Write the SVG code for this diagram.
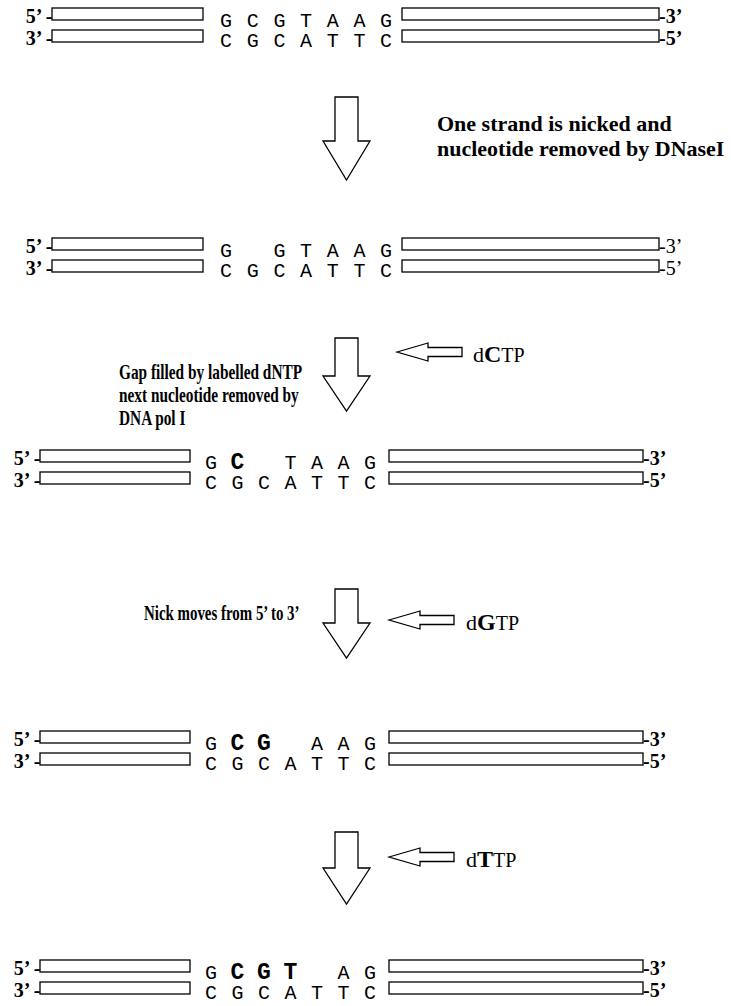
<svg xmlns="http://www.w3.org/2000/svg" width="731" height="1006" viewBox="0 0 731 1006">
<style>
.bg{fill:#fff}
.box{fill:#fff;stroke:#000;stroke-width:1.3}
.arr{fill:#fff;stroke:#000;stroke-width:1.3;stroke-linejoin:miter}
.lb{font-family:"Liberation Serif","Times New Roman",serif;font-size:20px;font-weight:bold;fill:#000}
.lr{font-family:"Liberation Serif","Times New Roman",serif;font-size:20px;fill:#000}
.nt{font-family:"Liberation Mono","Courier New",monospace;font-size:20px;text-anchor:middle;fill:#000}
.nb{font-weight:bold;font-size:23px}
.cap{font-family:"Liberation Serif","Times New Roman",serif;font-size:22px;font-weight:bold;fill:#000}
.capn{font-family:"Liberation Serif","Times New Roman",serif;font-size:21px;font-weight:bold;fill:#000}
.dn{font-family:"Liberation Serif","Times New Roman",serif;font-size:22px;fill:#000}
</style>
<rect class="bg" x="0" y="0" width="731" height="1006"/>

<g id="row1">
  <text class="lb" x="52.5" y="23" text-anchor="end">5’ -</text>
  <text class="lb" x="52.5" y="45" text-anchor="end">3’ -</text>
  <rect class="box" x="52" y="8" width="151" height="12"/>
  <rect class="box" x="52" y="30" width="151" height="12"/>
  <text class="nt" y="27" x="226 252.7 279.4 306 332.8 359.5 386">GCGTAAG</text>
  <text class="nt" y="47" x="226 252.7 279.4 306 332.8 359.5 386">CGCATTC</text>
  <rect class="box" x="402" y="8" width="257" height="12"/>
  <rect class="box" x="402" y="30" width="257" height="12"/>
  <text class="lb" x="659" y="23">-3’</text>
  <text class="lb" x="659" y="45">-5’</text>
</g>

<g id="row2">
  <text class="lb" x="52.5" y="253" text-anchor="end">5’ -</text>
  <text class="lb" x="52.5" y="275" text-anchor="end">3’ -</text>
  <rect class="box" x="52" y="238" width="151" height="12"/>
  <rect class="box" x="52" y="260" width="151" height="12"/>
  <text class="nt" y="257" x="226 279.4 306 332.8 359.5 386">GGTAAG</text>
  <text class="nt" y="277" x="226 252.7 279.4 306 332.8 359.5 386">CGCATTC</text>
  <rect class="box" x="402" y="238" width="257" height="12"/>
  <rect class="box" x="402" y="260" width="257" height="12"/>
  <text class="lr" x="659" y="253">-3’</text>
  <text class="lr" x="659" y="275">-5’</text>
</g>

<g id="row3">
  <text class="lb" x="40.5" y="465" text-anchor="end">5’ -</text>
  <text class="lb" x="40.5" y="487" text-anchor="end">3’ -</text>
  <rect class="box" x="40" y="450" width="150" height="12"/>
  <rect class="box" x="40" y="472" width="150" height="12"/>
  <text class="nt" y="469" x="211">G</text>
  <text class="nt nb" y="469" x="237.5">C</text>
  <text class="nt" y="469" x="290.5 317 343.5 370">TAAG</text>
  <text class="nt" y="489" x="211 237.5 264 290.5 317 343.5 370">CGCATTC</text>
  <rect class="box" x="389" y="450" width="254" height="12"/>
  <rect class="box" x="389" y="472" width="254" height="12"/>
  <text class="lb" x="643" y="465">-3’</text>
  <text class="lb" x="643" y="487">-5’</text>
</g>

<g id="row4">
  <text class="lb" x="40.5" y="746" text-anchor="end">5’ -</text>
  <text class="lb" x="40.5" y="768" text-anchor="end">3’ -</text>
  <rect class="box" x="40" y="731" width="150" height="12"/>
  <rect class="box" x="40" y="753" width="150" height="12"/>
  <text class="nt" y="750" x="211">G</text>
  <text class="nt nb" y="750" x="237.5 264">CG</text>
  <text class="nt" y="750" x="317 343.5 370">AAG</text>
  <text class="nt" y="770" x="211 237.5 264 290.5 317 343.5 370">CGCATTC</text>
  <rect class="box" x="389" y="731" width="254" height="12"/>
  <rect class="box" x="389" y="753" width="254" height="12"/>
  <text class="lb" x="643" y="746">-3’</text>
  <text class="lb" x="643" y="768">-5’</text>
</g>

<g id="row5">
  <text class="lb" x="40.5" y="975" text-anchor="end">5’ -</text>
  <text class="lb" x="40.5" y="997" text-anchor="end">3’ -</text>
  <rect class="box" x="40" y="960" width="150" height="12"/>
  <rect class="box" x="40" y="982" width="150" height="12"/>
  <text class="nt" y="979" x="211">G</text>
  <text class="nt nb" y="979" x="237.5 264 290.5">CGT</text>
  <text class="nt" y="979" x="343.5 370">AG</text>
  <text class="nt" y="999" x="211 237.5 264 290.5 317 343.5 370">CGCATTC</text>
  <rect class="box" x="389" y="960" width="254" height="12"/>
  <rect class="box" x="389" y="982" width="254" height="12"/>
  <text class="lb" x="643" y="975">-3’</text>
  <text class="lb" x="643" y="997">-5’</text>
</g>

<g id="note1">
  <text class="cap" x="437" y="131">One strand is nicked and</text>
  <text class="cap" x="437" y="156">nucleotide removed by DNaseI</text>
</g>

<g id="note2" transform="translate(119 0) scale(0.73 1)">
  <text class="capn" x="0" y="379">Gap filled by labelled dNTP</text>
  <text class="capn" x="0" y="402">next nucleotide removed by</text>
  <text class="capn" x="0" y="425">DNA pol I</text>
</g>

<g id="note3" transform="translate(144 0) scale(0.71 1)">
  <text class="capn" x="0" y="620">Nick moves from 5’ to 3’</text>
</g>

<g id="dCTP">
  <text class="dn" x="473" y="362">d<tspan font-weight="bold" font-size="24">C</tspan><tspan font-size="20">TP</tspan></text>
</g>
<g id="dGTP">
  <text class="dn" x="466" y="630">d<tspan font-weight="bold" font-size="24">G</tspan><tspan font-size="20">TP</tspan></text>
</g>
<g id="dTTP">
  <text class="dn" x="466" y="867">d<tspan font-weight="bold" font-size="24">T</tspan><tspan font-size="20">TP</tspan></text>
</g>

<g id="connectors">
  <polygon class="arr" points="335,97 358,97 358,141 370,141 346.5,180 323,141 335,141"/>
  <polygon class="arr" points="335,338 358,338 358,376 370,376 346.5,411 323,376 335,376"/>
  <polygon class="arr" points="335,589 358,589 358,623 370,623 346.5,658 323,623 335,623"/>
  <polygon class="arr" points="335,832 358,832 358,868 370,868 346.5,904 323,868 335,868"/>
  <polygon class="arr" points="397,352 428,343 428,347.5 462,347.5 462,356.5 428,356.5 428,361"/>
  <polygon class="arr" points="389,620 420,611 420,615.5 454,615.5 454,624.5 420,624.5 420,629"/>
  <polygon class="arr" points="389,857 420,848 420,852.5 454,852.5 454,861.5 420,861.5 420,866"/>
</g>
</svg>
